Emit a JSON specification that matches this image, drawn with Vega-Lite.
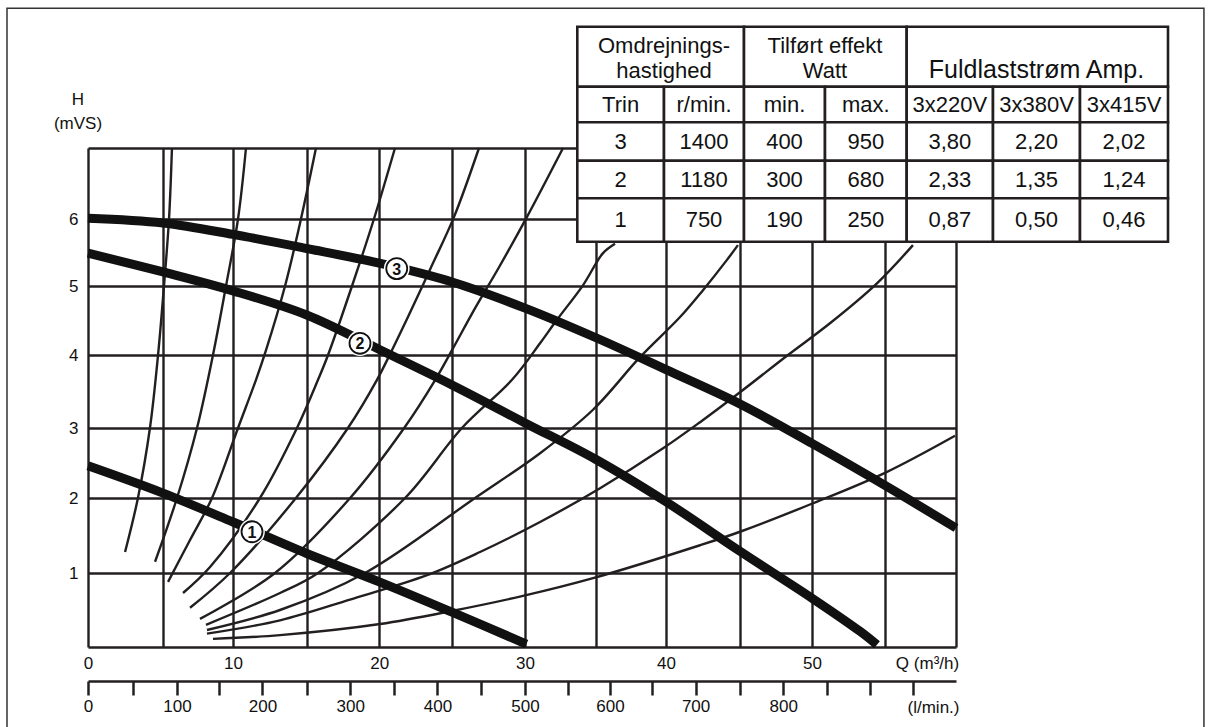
{
  "$schema": "https://vega.github.io/schema/vega-lite/v6.json",
  "width": 868,
  "height": 499,
  "autosize": {"type": "none"},
  "padding": {"left": 88, "top": 148, "right": 255, "bottom": 80},
  "background": "white",
  "config": {"view": {"stroke": null}, "font": "Liberation Sans"},
  "datasets": {
    "frame": [{"Q0": -5.4, "Q1": 77.46, "H0": -1.2, "H1": 8.97}],
    "pump": [
      {"trin": 3, "Q": 0, "H": 6.01}, {"trin": 3, "Q": 5, "H": 5.94}, {"trin": 3, "Q": 10, "H": 5.77}, {"trin": 3, "Q": 15, "H": 5.56}, {"trin": 3, "Q": 20, "H": 5.34}, {"trin": 3, "Q": 25, "H": 5.06}, {"trin": 3, "Q": 30, "H": 4.68}, {"trin": 3, "Q": 35, "H": 4.25}, {"trin": 3, "Q": 40, "H": 3.8}, {"trin": 3, "Q": 45, "H": 3.33}, {"trin": 3, "Q": 50, "H": 2.78}, {"trin": 3, "Q": 55, "H": 2.18}, {"trin": 3, "Q": 60, "H": 1.6},
      {"trin": 2, "Q": 0, "H": 5.49}, {"trin": 2, "Q": 5, "H": 5.21}, {"trin": 2, "Q": 10, "H": 4.93}, {"trin": 2, "Q": 15, "H": 4.58}, {"trin": 2, "Q": 20, "H": 4.08}, {"trin": 2, "Q": 25, "H": 3.59}, {"trin": 2, "Q": 30, "H": 3.07}, {"trin": 2, "Q": 35, "H": 2.55}, {"trin": 2, "Q": 40, "H": 1.95}, {"trin": 2, "Q": 45, "H": 1.29}, {"trin": 2, "Q": 50, "H": 0.66}, {"trin": 2, "Q": 53.3, "H": 0.21}, {"trin": 2, "Q": 54.45, "H": 0.03},
      {"trin": 1, "Q": 0, "H": 2.46}, {"trin": 1, "Q": 5, "H": 2.07}, {"trin": 1, "Q": 10, "H": 1.68}, {"trin": 1, "Q": 15, "H": 1.26}, {"trin": 1, "Q": 20, "H": 0.88}, {"trin": 1, "Q": 25, "H": 0.47}, {"trin": 1, "Q": 30.1, "H": 0.04}
    ],
    "labels": [
      {"trin": 1, "Q": 11.29, "H": 1.55},
      {"trin": 2, "Q": 18.67, "H": 4.17},
      {"trin": 3, "Q": 21.2, "H": 5.26}
    ],
    "sys": [
      {"c": "c1", "Q": 2.47, "H": 1.28}, {"c": "c1", "Q": 3.33, "H": 2.0}, {"c": "c1", "Q": 4.13, "H": 3.0}, {"c": "c1", "Q": 4.67, "H": 4.0}, {"c": "c1", "Q": 5.07, "H": 5.0}, {"c": "c1", "Q": 5.43, "H": 6.0}, {"c": "c1", "Q": 5.64, "H": 7.0},
      {"c": "c2", "Q": 4.47, "H": 1.15}, {"c": "c2", "Q": 6.0, "H": 2.0}, {"c": "c2", "Q": 7.43, "H": 3.0}, {"c": "c2", "Q": 8.57, "H": 4.0}, {"c": "c2", "Q": 9.5, "H": 5.0}, {"c": "c2", "Q": 10.34, "H": 6.0}, {"c": "c2", "Q": 10.88, "H": 7.0},
      {"c": "c3", "Q": 5.36, "H": 0.88}, {"c": "c3", "Q": 6.93, "H": 1.44}, {"c": "c3", "Q": 8.5, "H": 2.0}, {"c": "c3", "Q": 10.34, "H": 3.0}, {"c": "c3", "Q": 11.56, "H": 3.66}, {"c": "c3", "Q": 12.24, "H": 4.07}, {"c": "c3", "Q": 13.53, "H": 5.0}, {"c": "c3", "Q": 14.61, "H": 6.0}, {"c": "c3", "Q": 15.64, "H": 7.0},
      {"c": "c4", "Q": 6.43, "H": 0.73}, {"c": "c4", "Q": 8.36, "H": 1.08}, {"c": "c4", "Q": 11.83, "H": 2.0}, {"c": "c4", "Q": 14.34, "H": 3.0}, {"c": "c4", "Q": 15.78, "H": 3.66}, {"c": "c4", "Q": 16.47, "H": 4.0}, {"c": "c4", "Q": 18.12, "H": 5.0}, {"c": "c4", "Q": 19.63, "H": 6.0}, {"c": "c4", "Q": 21.08, "H": 7.0},
      {"c": "c5", "Q": 6.93, "H": 0.53}, {"c": "c5", "Q": 9.79, "H": 1.0}, {"c": "c5", "Q": 14.27, "H": 2.0}, {"c": "c5", "Q": 17.84, "H": 3.0}, {"c": "c5", "Q": 19.84, "H": 3.66}, {"c": "c5", "Q": 20.87, "H": 4.07}, {"c": "c5", "Q": 21.97, "H": 4.55}, {"c": "c5", "Q": 23.56, "H": 5.28}, {"c": "c5", "Q": 25.14, "H": 6.03}, {"c": "c5", "Q": 26.85, "H": 7.0},
      {"c": "c6", "Q": 7.64, "H": 0.38}, {"c": "c6", "Q": 12.85, "H": 1.0}, {"c": "c6", "Q": 17.99, "H": 2.0}, {"c": "c6", "Q": 21.71, "H": 3.0}, {"c": "c6", "Q": 23.85, "H": 3.66}, {"c": "c6", "Q": 25.0, "H": 4.07}, {"c": "c6", "Q": 26.64, "H": 4.7}, {"c": "c6", "Q": 28.22, "H": 5.28}, {"c": "c6", "Q": 30.14, "H": 6.03}, {"c": "c6", "Q": 32.68, "H": 7.0},
      {"c": "c7", "Q": 8.07, "H": 0.3}, {"c": "c7", "Q": 13.19, "H": 0.73}, {"c": "c7", "Q": 15.78, "H": 1.0}, {"c": "c7", "Q": 21.77, "H": 2.0}, {"c": "c7", "Q": 25.68, "H": 3.0}, {"c": "c7", "Q": 29.11, "H": 3.66}, {"c": "c7", "Q": 31.06, "H": 4.17}, {"c": "c7", "Q": 32.25, "H": 4.51}, {"c": "c7", "Q": 34.08, "H": 5.01}, {"c": "c7", "Q": 35.5, "H": 5.49}, {"c": "c7", "Q": 36.36, "H": 5.63},
      {"c": "c8", "Q": 8.14, "H": 0.23}, {"c": "c8", "Q": 13.19, "H": 0.5}, {"c": "c8", "Q": 19.02, "H": 1.0}, {"c": "c8", "Q": 26.58, "H": 2.0}, {"c": "c8", "Q": 31.06, "H": 2.64}, {"c": "c8", "Q": 34.79, "H": 3.25}, {"c": "c8", "Q": 38.14, "H": 3.97}, {"c": "c8", "Q": 40.95, "H": 4.55}, {"c": "c8", "Q": 42.5, "H": 4.94}, {"c": "c8", "Q": 44.12, "H": 5.39}, {"c": "c8", "Q": 44.86, "H": 5.61},
      {"c": "c9", "Q": 8.14, "H": 0.18}, {"c": "c9", "Q": 13.19, "H": 0.36}, {"c": "c9", "Q": 17.98, "H": 0.64}, {"c": "c9", "Q": 23.28, "H": 0.97}, {"c": "c9", "Q": 26.92, "H": 1.28}, {"c": "c9", "Q": 31.06, "H": 1.68}, {"c": "c9", "Q": 35.29, "H": 2.14}, {"c": "c9", "Q": 39.79, "H": 2.71}, {"c": "c9", "Q": 42.3, "H": 3.08}, {"c": "c9", "Q": 45.0, "H": 3.49}, {"c": "c9", "Q": 48.33, "H": 4.0}, {"c": "c9", "Q": 51.23, "H": 4.46}, {"c": "c9", "Q": 54.45, "H": 5.04}, {"c": "c9", "Q": 56.97, "H": 5.61},
      {"c": "c10", "Q": 8.57, "H": 0.11}, {"c": "c10", "Q": 13.19, "H": 0.16}, {"c": "c10", "Q": 20.05, "H": 0.31}, {"c": "c10", "Q": 25.07, "H": 0.49}, {"c": "c10", "Q": 29.86, "H": 0.69}, {"c": "c10", "Q": 34.79, "H": 0.93}, {"c": "c10", "Q": 42.3, "H": 1.37}, {"c": "c10", "Q": 45.0, "H": 1.55}, {"c": "c10", "Q": 50.07, "H": 1.93}, {"c": "c10", "Q": 55.0, "H": 2.36}, {"c": "c10", "Q": 59.93, "H": 2.89}
    ],
    "cells": [
      {"c0": 0, "c1": 2, "r0": 0, "r1": 1}, {"c0": 2, "c1": 4, "r0": 0, "r1": 1}, {"c0": 4, "c1": 7, "r0": 0, "r1": 1},
      {"c0": 0, "c1": 1, "r0": 1, "r1": 2}, {"c0": 1, "c1": 2, "r0": 1, "r1": 2}, {"c0": 2, "c1": 3, "r0": 1, "r1": 2}, {"c0": 3, "c1": 4, "r0": 1, "r1": 2}, {"c0": 4, "c1": 5, "r0": 1, "r1": 2}, {"c0": 5, "c1": 6, "r0": 1, "r1": 2}, {"c0": 6, "c1": 7, "r0": 1, "r1": 2},
      {"c0": 0, "c1": 1, "r0": 2, "r1": 3}, {"c0": 1, "c1": 2, "r0": 2, "r1": 3}, {"c0": 2, "c1": 3, "r0": 2, "r1": 3}, {"c0": 3, "c1": 4, "r0": 2, "r1": 3}, {"c0": 4, "c1": 5, "r0": 2, "r1": 3}, {"c0": 5, "c1": 6, "r0": 2, "r1": 3}, {"c0": 6, "c1": 7, "r0": 2, "r1": 3},
      {"c0": 0, "c1": 1, "r0": 3, "r1": 4}, {"c0": 1, "c1": 2, "r0": 3, "r1": 4}, {"c0": 2, "c1": 3, "r0": 3, "r1": 4}, {"c0": 3, "c1": 4, "r0": 3, "r1": 4}, {"c0": 4, "c1": 5, "r0": 3, "r1": 4}, {"c0": 5, "c1": 6, "r0": 3, "r1": 4}, {"c0": 6, "c1": 7, "r0": 3, "r1": 4},
      {"c0": 0, "c1": 1, "r0": 4, "r1": 5}, {"c0": 1, "c1": 2, "r0": 4, "r1": 5}, {"c0": 2, "c1": 3, "r0": 4, "r1": 5}, {"c0": 3, "c1": 4, "r0": 4, "r1": 5}, {"c0": 4, "c1": 5, "r0": 4, "r1": 5}, {"c0": 5, "c1": 6, "r0": 4, "r1": 5}, {"c0": 6, "c1": 7, "r0": 4, "r1": 5}
    ],
    "headText": [
      {"col": 1, "row": 0.32, "t": "Omdrejnings-\nhastighed"},
      {"col": 3, "row": 0.32, "t": "Tilført effekt\nWatt"}
    ],
    "ampText": [
      {"col": 5.5, "row": 0.72, "t": "Fuldlaststrøm Amp."}
    ],
    "cellText": [
      {"col": 0.5, "row": 1.5, "t": "Trin"}, {"col": 1.5, "row": 1.5, "t": "r/min."}, {"col": 2.5, "row": 1.5, "t": "min."}, {"col": 3.5, "row": 1.5, "t": "max."}, {"col": 4.5, "row": 1.5, "t": "3x220V"}, {"col": 5.5, "row": 1.5, "t": "3x380V"}, {"col": 6.5, "row": 1.5, "t": "3x415V"},
      {"col": 0.5, "row": 2.5, "t": "3"}, {"col": 1.5, "row": 2.5, "t": "1400"}, {"col": 2.5, "row": 2.5, "t": "400"}, {"col": 3.5, "row": 2.5, "t": "950"}, {"col": 4.5, "row": 2.5, "t": "3,80"}, {"col": 5.5, "row": 2.5, "t": "2,20"}, {"col": 6.5, "row": 2.5, "t": "2,02"},
      {"col": 0.5, "row": 3.5, "t": "2"}, {"col": 1.5, "row": 3.5, "t": "1180"}, {"col": 2.5, "row": 3.5, "t": "300"}, {"col": 3.5, "row": 3.5, "t": "680"}, {"col": 4.5, "row": 3.5, "t": "2,33"}, {"col": 5.5, "row": 3.5, "t": "1,35"}, {"col": 6.5, "row": 3.5, "t": "1,24"},
      {"col": 0.5, "row": 4.5, "t": "1"}, {"col": 1.5, "row": 4.5, "t": "750"}, {"col": 2.5, "row": 4.5, "t": "190"}, {"col": 3.5, "row": 4.5, "t": "250"}, {"col": 4.5, "row": 4.5, "t": "0,87"}, {"col": 5.5, "row": 4.5, "t": "0,50"}, {"col": 6.5, "row": 4.5, "t": "0,46"}
    ]
  },
  "layer": [
    {
      "resolve": {"axis": {"x": "independent"}},
      "layer": [
        {
          "data": {"name": "frame"},
          "mark": {"type": "rect", "fill": null, "stroke": "#333333", "strokeWidth": 1.5},
          "encoding": {
            "x": {"field": "Q0", "type": "quantitative", "axis": null},
            "x2": {"field": "Q1"},
            "y": {"field": "H0", "type": "quantitative"},
            "y2": {"field": "H1"}
          }
        },
        {
          "data": {"name": "sys"},
          "mark": {"type": "line", "stroke": "#231f20", "strokeWidth": 2.4, "interpolate": "catmull-rom"},
          "encoding": {
            "x": {
              "field": "Q", "type": "quantitative",
              "scale": {"domain": [0, 5, 10, 15, 20, 25, 30, 35, 40, 45, 50, 55, 60], "range": [0, 75, 145, 218.7, 291.3, 364, 437, 508, 578, 652, 724, 797, 868], "nice": false, "zero": false},
              "axis": {
                "values": [0, 5, 10, 15, 20, 25, 30, 35, 40, 45, 50, 55, 60],
                "labelExpr": "(datum.value % 10 === 0 && datum.value < 60) ? format(datum.value, 'd') : ''",
                "grid": true, "gridColor": "#231f20", "gridWidth": 2.4, "gridOpacity": 1,
                "ticks": false, "tickSize": 0, "domain": false,
                "labelFont": "Liberation Sans", "labelFontSize": 17, "labelColor": "#111111", "labelPadding": 8,
                "labelFlush": false, "labelOverlap": false, "labelBound": false,
                "title": "Q (m³/h)", "titleX": 839, "titleY": 16, "titleAlign": "center", "titleBaseline": "middle",
                "titleFont": "Liberation Sans", "titleFontSize": 17, "titleFontWeight": "normal", "titleColor": "#111111"
              }
            },
            "y": {
              "field": "H", "type": "quantitative",
              "scale": {"domain": [0, 1, 2, 3, 4, 5, 6, 7], "range": [499, 425, 350, 280, 207, 138, 71, 0], "nice": false, "zero": false},
              "axis": {
                "values": [0, 1, 2, 3, 4, 5, 6, 7],
                "labelExpr": "(datum.value >= 1 && datum.value <= 6) ? format(datum.value, 'd') : ''",
                "grid": true, "gridColor": "#231f20", "gridWidth": 2.4, "gridOpacity": 1,
                "ticks": false, "tickSize": 0, "domain": false,
                "labelFont": "Liberation Sans", "labelFontSize": 17, "labelColor": "#111111", "labelPadding": 10,
                "labelFlush": false, "labelOverlap": false, "labelBound": false,
                "title": ["H", "(mVS)"], "titleAngle": 0, "titleX": -10.5, "titleY": -49, "titleAlign": "center", "titleBaseline": "middle", "titleLineHeight": 24,
                "titleFont": "Liberation Sans", "titleFontSize": 17, "titleFontWeight": "normal", "titleColor": "#111111"
              }
            },
            "detail": {"field": "c", "type": "nominal"}
          }
        },
        {
          "data": {"name": "pump"},
          "mark": {"type": "line", "stroke": "#111111", "strokeWidth": 9, "interpolate": "catmull-rom"},
          "encoding": {
            "x": {"field": "Q", "type": "quantitative", "axis": null},
            "y": {"field": "H", "type": "quantitative"},
            "detail": {"field": "trin", "type": "nominal"}
          }
        },
        {
          "data": {"name": "labels"},
          "mark": {"type": "point", "shape": "circle", "filled": true, "fill": "white", "opacity": 1, "size": 660},
          "encoding": {
            "x": {"field": "Q", "type": "quantitative", "axis": null},
            "y": {"field": "H", "type": "quantitative"}
          }
        },
        {
          "data": {"name": "labels"},
          "mark": {"type": "point", "shape": "circle", "filled": false, "fill": "white", "fillOpacity": 1, "stroke": "#111111", "strokeWidth": 1.8, "opacity": 1, "size": 440},
          "encoding": {
            "x": {"field": "Q", "type": "quantitative", "axis": null},
            "y": {"field": "H", "type": "quantitative"}
          }
        },
        {
          "data": {"name": "labels"},
          "mark": {"type": "text", "font": "Liberation Sans", "fontSize": 16, "fontWeight": "bold", "color": "#111111", "align": "center", "baseline": "middle", "dy": 1},
          "encoding": {
            "x": {"field": "Q", "type": "quantitative", "axis": null},
            "y": {"field": "H", "type": "quantitative"},
            "text": {"field": "trin", "type": "nominal"}
          }
        },
        {
          "data": {"name": "pump"},
          "mark": {"type": "point", "opacity": 0},
          "encoding": {
            "x": {
              "field": "Q", "type": "quantitative",
              "axis": {
                "orient": "bottom", "offset": 34,
                "values": [0, 3, 6, 9, 12, 15, 18, 21, 24, 27, 30, 33, 36, 39, 42, 45, 48, 51, 54, 57],
                "labelExpr": "(datum.value % 6 === 0 && datum.value <= 48) ? format(datum.value * 50 / 3, 'd') : ''",
                "grid": false, "domain": true, "domainColor": "#231f20", "domainWidth": 2.5,
                "ticks": true, "tickSize": 14, "tickWidth": 2.5, "tickColor": "#231f20",
                "labelFont": "Liberation Sans", "labelFontSize": 17, "labelColor": "#111111", "labelPadding": 3,
                "labelFlush": false, "labelOverlap": false, "labelBound": false,
                "title": "(l/min.)", "titleX": 845, "titleY": 26, "titleAlign": "center", "titleBaseline": "middle",
                "titleFont": "Liberation Sans", "titleFontSize": 17, "titleFontWeight": "normal", "titleColor": "#111111"
              }
            },
            "y": {"field": "H", "type": "quantitative"}
          }
        }
      ]
    },
    {
      "layer": [
        {
          "data": {"name": "cells"},
          "mark": {"type": "rect", "fill": "white", "stroke": "#231f20", "strokeWidth": 2.6},
          "encoding": {
            "x": {"field": "c0", "type": "quantitative", "axis": null, "scale": {"domain": [0, 1, 2, 3, 4, 5, 6, 7], "range": [489.3, 576, 656, 737, 818.7, 905, 992, 1080], "nice": false, "zero": false}},
            "x2": {"field": "c1"},
            "y": {"field": "r0", "type": "quantitative", "axis": null, "scale": {"domain": [0, 1, 2, 3, 4, 5], "range": [-121.3, -61.3, -25.7, 12.7, 50.3, 93.7], "nice": false, "zero": false}},
            "y2": {"field": "r1"}
          }
        },
        {
          "data": {"name": "headText"},
          "mark": {"type": "text", "font": "Liberation Sans", "fontSize": 22, "color": "#111111", "align": "center", "baseline": "middle", "lineBreak": "\n", "lineHeight": 25},
          "encoding": {
            "x": {"field": "col", "type": "quantitative", "axis": null},
            "y": {"field": "row", "type": "quantitative", "axis": null},
            "text": {"field": "t", "type": "nominal"}
          }
        },
        {
          "data": {"name": "ampText"},
          "mark": {"type": "text", "font": "Liberation Sans", "fontSize": 25, "color": "#111111", "align": "center", "baseline": "middle"},
          "encoding": {
            "x": {"field": "col", "type": "quantitative", "axis": null},
            "y": {"field": "row", "type": "quantitative", "axis": null},
            "text": {"field": "t", "type": "nominal"}
          }
        },
        {
          "data": {"name": "cellText"},
          "mark": {"type": "text", "font": "Liberation Sans", "fontSize": 22, "color": "#111111", "align": "center", "baseline": "middle"},
          "encoding": {
            "x": {"field": "col", "type": "quantitative", "axis": null},
            "y": {"field": "row", "type": "quantitative", "axis": null},
            "text": {"field": "t", "type": "nominal"}
          }
        }
      ]
    }
  ],
  "resolve": {"scale": {"x": "independent", "y": "independent"}, "axis": {"x": "independent", "y": "independent"}}
}
